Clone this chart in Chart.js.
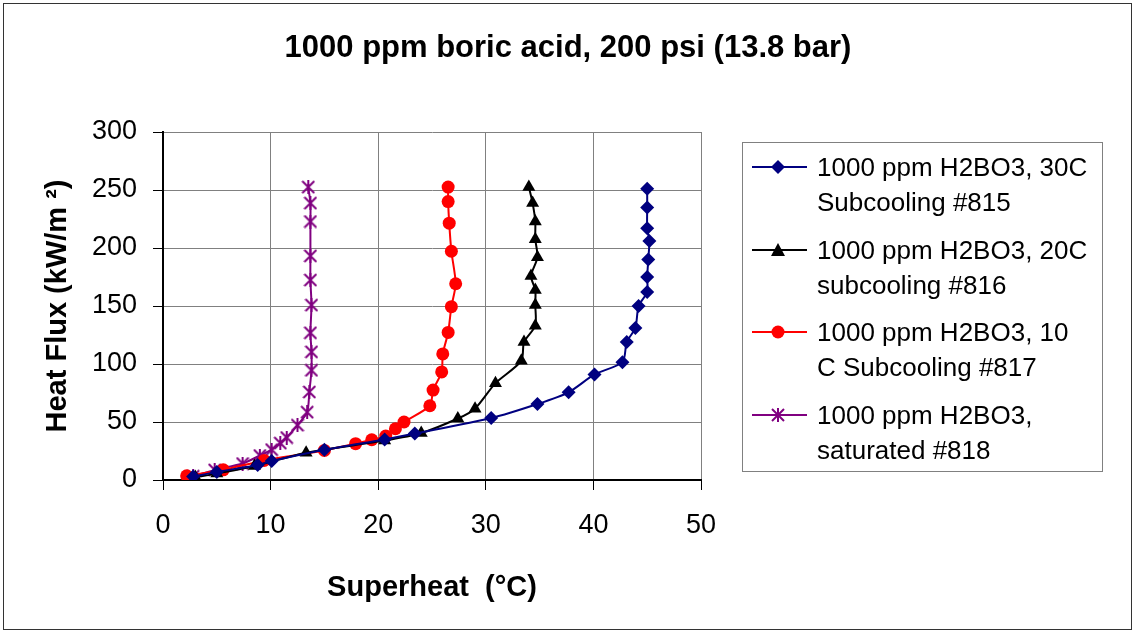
<!DOCTYPE html>
<html>
<head>
<meta charset="utf-8">
<script src="https://cdn.jsdelivr.net/npm/chart.js@4.4.0/dist/chart.umd.min.js"></script>
<style>
    body { margin: 0; background: #fff; font-family: Arial, "Liberation Sans", sans-serif; }
    #wrap { position: relative; width: 1136px; height: 634px; }
    #frame { position: absolute; left: 3px; top: 3px; width: 1129px; height: 627px; border: 1px solid #333; box-sizing: border-box; }
    #title { position: absolute; left: 0; width: 1136px; top: 29px; text-align: center; font-size: 31px; font-weight: bold; line-height: 36px; color: #000; }
    #legend { position: absolute; left: 742px; top: 142px; width: 361px; height: 330px; border: 1px solid #808080; box-sizing: border-box; background: #fff; }
    .item { position: absolute; left: 8px; font-size: 26px; line-height: 35px; color: #000; }
    .item svg { position: absolute; left: 0; top: 10px; }
    .item div { position: absolute; left: 66px; top: 0; white-space: nowrap; }
</style>
</head>
<body>
<div id="wrap">
    <canvas id="myChart" width="1136" height="634"></canvas>
    <div id="frame"></div>
    <div id="title">1000 ppm boric acid, 200 psi (13.8 bar)</div>
    <div id="legend"></div>
</div>
<script>
'use strict';

// Superheat (C) and heat flux (kW/m2)
let sub30X = [2.8, 5.0, 8.8, 10.1, 15.0, 20.6, 23.4, 30.5, 34.8, 37.7, 40.1, 42.7, 43.1, 43.9, 44.2, 45.0, 45.0, 45.1, 45.2, 45.0, 45.0, 45.0];
let sub30Y = [3, 7, 13, 16.3, 26, 35, 40, 53.4, 65.5, 75.6, 91, 101.6, 119, 131, 150, 162, 175, 190, 206, 217, 235, 251];

let sub20X = [3.0, 5.0, 8.5, 13.3, 20.6, 24.0, 27.4, 29.0, 30.9, 33.3, 33.55, 34.6, 34.6, 34.6, 34.2, 34.8, 34.6, 34.6, 34.35, 34.0];
let sub20Y = [2.5, 5.5, 12, 23.5, 34, 40.5, 53, 61.5, 83.5, 102.7, 119, 133, 150.8, 163.8, 175.9, 192, 207.6, 222.8, 238.7, 252.5];

let sub10X = [2.2, 5.6, 9.4, 15.0, 17.9, 19.4, 20.7, 21.6, 22.4, 24.8, 25.1, 25.9, 26.0, 26.5, 26.8, 27.2, 26.8, 26.6, 26.5, 26.5];
let sub10Y = [3.6, 8.8, 16.9, 25.5, 31.3, 34.7, 37.9, 44.2, 50, 64, 77.5, 93.2, 108.7, 127.2, 149.4, 169.2, 197.2, 221.4, 240, 252.5];

let satX = [2.8, 4.8, 7.4, 9.0, 10.1, 10.9, 11.5, 12.5, 13.4, 13.6, 13.8, 13.8, 13.7, 13.8, 13.7, 13.7, 13.7, 13.7, 13.5];
let satY = [3.2, 8.7, 14.2, 21.1, 26.2, 31.8, 36.6, 47.3, 58.5, 75.9, 94.6, 110.5, 126.9, 150.8, 172.4, 193.2, 222.8, 238.7, 252.5];

let seriesNames = [
    ['1000 ppm H2BO3, 30C', 'Subcooling #815'],
    ['1000 ppm H2BO3, 20C', 'subcooling #816'],
    ['1000 ppm H2BO3, 10', 'C Subcooling #817'],
    ['1000 ppm H2BO3,', 'saturated #818']
];
let seriesColors = ['#000080', '#000000', '#ff0000', '#800080'];

let xTicks = [0, 10, 20, 30, 40, 50];
let yTicks = [0, 50, 100, 150, 200, 250, 300];

function toPoints(xs, ys) {
    return xs.map((x, i) => ({ x: x, y: ys[i] }));
}

// asterisk marker like excel: an X with a vertical bar
function makeAsterisk(color, size) {
    let c = document.createElement('canvas');
    c.width = size;
    c.height = size;
    let g = c.getContext('2d');
    g.strokeStyle = color;
    g.lineWidth = 2;
    g.beginPath();
    g.moveTo(1, 1); g.lineTo(size - 1, size - 1);
    g.moveTo(size - 1, 1); g.lineTo(1, size - 1);
    g.moveTo(size / 2, 0); g.lineTo(size / 2, size);
    g.stroke();
    return c;
}
let star = makeAsterisk('#800080', 14);

let ds = [
    { data: toPoints(sub30X, sub30Y), pointStyle: 'rectRot', pointRadius: 7 },
    { data: toPoints(sub20X, sub20Y), pointStyle: 'triangle', pointRadius: 7.5 },
    { data: toPoints(sub10X, sub10Y), pointStyle: 'circle', pointRadius: 6.5 },
    { data: toPoints(satX, satY), pointStyle: star, pointRadius: 7 }
].map((d, i) => Object.assign(d, {
    label: seriesNames[i].join(' '),
    borderColor: seriesColors[i],
    backgroundColor: seriesColors[i],
    borderWidth: 2,
    pointBorderWidth: 0,
    showLine: true,
    tension: 0.25
}));

let tickFont = { family: 'Arial, "Liberation Sans"', size: 27 };
let axisTitleFont = { family: 'Arial, "Liberation Sans"', size: 29, weight: 'bold' };

let ctx = document.getElementById('myChart').getContext('2d');
let myChart = new Chart(ctx, {
    type: 'scatter',
    data: { datasets: ds },
    options: {
        responsive: false,
        animation: false,
        layout: { padding: { top: 132, left: 0, right: 435, bottom: 0 } },
        plugins: {
            legend: { display: false },
            tooltip: { enabled: false }
        },
        scales: {
            x: {
                type: 'linear',
                min: 0,
                max: 50,
                afterBuildTicks: s => { s.ticks = xTicks.map(v => ({ value: v })); },
                afterFit: s => { s.height = 154; },
                border: { color: '#000', width: 2 },
                grid: { color: '#808080', lineWidth: 1, tickLength: 10, tickColor: '#000' },
                ticks: { color: '#000', padding: 19, font: tickFont },
                title: {
                    display: true,
                    text: 'Superheat  (°C)',
                    color: '#000',
                    padding: { top: 0, bottom: 29 },
                    font: axisTitleFont
                }
            },
            y: {
                type: 'linear',
                min: 0,
                max: 300,
                afterBuildTicks: s => { s.ticks = yTicks.map(v => ({ value: v })); },
                afterFit: s => { s.width = 163; },
                border: { color: '#000', width: 2 },
                grid: { color: '#808080', lineWidth: 1, tickLength: 10, tickColor: '#000' },
                ticks: { color: '#000', padding: 16, font: tickFont },
                title: {
                    display: true,
                    text: 'Heat Flux (kW/m ²)',
                    color: '#000',
                    padding: { top: 41, bottom: 0 },
                    font: axisTitleFont
                }
            }
        }
    }
});

// legend drawn as html, with markers in svg
let legend = document.getElementById('legend');
let markerSvg = [
    '<polygon points="27,0 34,7 27,14 20,7" fill="#000080"/>',
    '<polygon points="27,0 34,13 20,13" fill="#000"/>',
    '<circle cx="27" cy="7" r="6.5" fill="#ff0000"/>',
    '<path d="M21,1 L33,13 M33,1 L21,13 M27,0 L27,14" stroke="#800080" stroke-width="2"/>'
];
for (let i = 0; i < seriesNames.length; i++) {
    let item = document.createElement('div');
    item.className = 'item';
    item.style.top = (7 + i * 82.5) + 'px';
    item.innerHTML = '<svg width="56" height="16" viewBox="0 0 56 16">' +
        '<line x1="1" y1="7" x2="56" y2="7" stroke="' + seriesColors[i] + '" stroke-width="2"/>' +
        markerSvg[i] + '</svg>' +
        '<div>' + seriesNames[i][0] + '<br>' + seriesNames[i][1] + '</div>';
    legend.appendChild(item);
}
</script>
</body>
</html>
